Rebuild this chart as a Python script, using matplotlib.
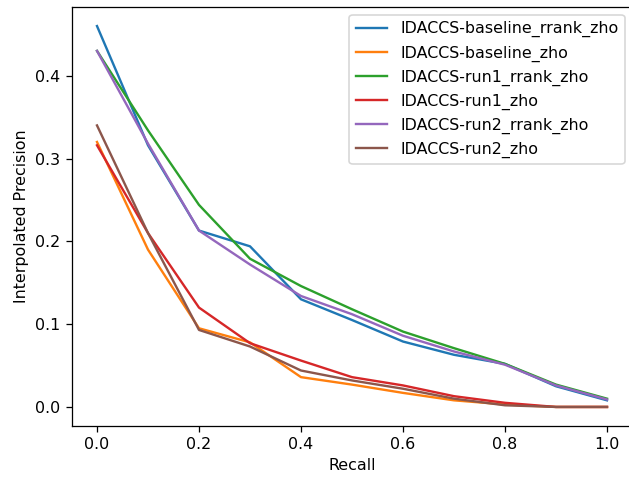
import matplotlib
matplotlib.use("Agg")
import matplotlib.pyplot as plt

# Recall levels and interpolated precision per run
recall = [0.0, 0.1, 0.2, 0.3, 0.4, 0.5, 0.6, 0.7, 0.8, 0.9, 1.0]

baseline_rrank = [0.46, 0.316, 0.213, 0.194, 0.130, 0.105, 0.079, 0.063, 0.052, 0.025, 0.008]
baseline = [0.320, 0.190, 0.095, 0.078, 0.036, 0.027, 0.017, 0.008, 0.003, 0.0, 0.0]
run1_rrank = [0.430, 0.334, 0.244, 0.179, 0.146, 0.118, 0.091, 0.071, 0.052, 0.027, 0.010]
run1 = [0.316, 0.210, 0.120, 0.077, 0.056, 0.036, 0.026, 0.013, 0.005, 0.0, 0.0]
run2_rrank = [0.430, 0.318, 0.213, 0.172, 0.134, 0.112, 0.086, 0.067, 0.051, 0.026, 0.009]
run2 = [0.340, 0.210, 0.093, 0.073, 0.044, 0.032, 0.022, 0.010, 0.002, 0.0, 0.0]

names = ["IDACCS-baseline_rrank_zho", "IDACCS-baseline_zho",
         "IDACCS-run1_rrank_zho", "IDACCS-run1_zho",
         "IDACCS-run2_rrank_zho", "IDACCS-run2_zho"]
series = [baseline_rrank, baseline, run1_rrank, run1, run2_rrank, run2]

# The reference was rendered a bit larger and cropped, so use a higher dpi
dpi = 114
fig = plt.figure(figsize=(629 / dpi, 479 / dpi), dpi=dpi)
# axes placed so the right spine falls just past the image edge, as in the reference
ax = fig.add_axes([71.5 / 629, 53 / 479, 561 / 629, 419 / 479])

for name, vals in zip(names, series):
    ax.plot(recall, vals, label=name)

ax.set_xlabel("Recall")
ax.set_ylabel("Interpolated Precision")
ax.legend(loc="upper right")

fig.savefig("out.png", dpi=dpi)
